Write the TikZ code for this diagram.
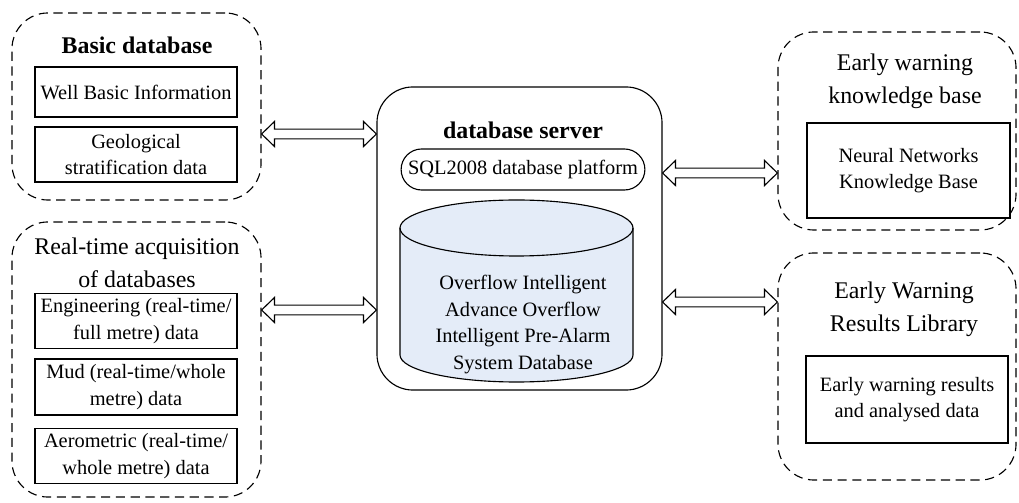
\documentclass[tikz,border=0pt]{standalone}
\usepackage{fontspec}
\setmainfont{Liberation Serif}
\usetikzlibrary{calc,shapes.misc}
\definecolor{cylfill}{RGB}{228,236,248}
% hollow two-headed block arrow between two points on one level
\newcommand\hollowarrow[2]{%
  \draw[line join=miter] let \p1=#1, \p2=#2 in
    (\x1,\y1) -- (\x1+9.2pt,\y1+8.9pt) -- (\x1+9.2pt,\y1+3.5pt)
    -- (\x2-9.2pt,\y2+3.5pt) -- (\x2-9.2pt,\y2+8.9pt) -- (\x2,\y2)
    -- (\x2-9.2pt,\y2-8.9pt) -- (\x2-9.2pt,\y2-3.5pt)
    -- (\x1+9.2pt,\y1-3.5pt) -- (\x1+9.2pt,\y1-8.9pt) -- cycle;}
\begin{document}
\begin{tikzpicture}[x=0.025cm,y=-0.025cm,line width=0.8pt,
  group/.style={draw,dash pattern=on 6.5pt off 4pt,rounded corners=0.9cm},
  item/.style={draw,align=center,minimum width=5.05cm,font=\fontsize{14.5}{19}\selectfont},
  title/.style={align=center,font=\fontsize{17}{23.4}\selectfont}]
\useasboundingbox (0,0) rectangle (1019,503);
% outer frames
\node[group,minimum width=6.225cm,minimum height=4.675cm] (bas) at (136.5,106.5) {};
\node[group,minimum width=6.225cm,minimum height=6.875cm] (rt) at (136.5,359.5) {};
\node[group,minimum width=5.95cm,minimum height=4.95cm] (kb) at (897,131) {};
\node[group,minimum width=5.95cm,minimum height=5.675cm] (res) at (897,366.5) {};
\node[draw,rounded corners=0.9cm,minimum width=7.125cm,minimum height=7.575cm] (srv) at (519.5,238.5) {};
% basic database
\node[title,font=\fontsize{17}{23.4}\selectfont\bfseries] (basT) at (137,45) {Basic database};
\node[item,minimum height=1.25cm] (well) at (136,92) {Well Basic Information};
\node[item,minimum height=1.375cm] (geo) at (136,154.5) {Geological\\stratification data};
% real-time acquisition
\node[title] (rtT) at (137,263) {Real-time acquisition\\of databases};
\node[item,minimum height=1.35cm] (eng) at (136,321) {Engineering (real-time/\\full metre) data};
\node[item,minimum height=1.4cm] (mud) at (136,387) {Mud (real-time/whole\\metre) data};
\node[item,minimum height=1.35cm] (aero) at (136,456) {Aerometric (real-time/\\whole metre) data};
% server
\node[title,font=\fontsize{17}{23.4}\selectfont\bfseries] (srvT) at (523,130) {database server};
\node[draw,rounded rectangle,minimum width=6.05cm,minimum height=1.025cm,
  font=\fontsize{14.5}{19}\selectfont] (sql) at (523,169.5) {SQL2008 database platform};
\filldraw[fill=cylfill] (400,228) -- (400,355) arc[start angle=180,end angle=360,x radius=116.5,y radius=-27]
  -- (633,228) arc[start angle=0,end angle=180,x radius=116.5,y radius=-28] -- cycle;
\draw (400,228) arc[start angle=180,end angle=360,x radius=116.5,y radius=-28];
\node[align=center,font=\fontsize{14.5}{19.1}\selectfont] (cyl) at (523,324.5)
  {Overflow Intelligent\\Advance Overflow\\Intelligent Pre-Alarm\\System Database};
% knowledge base
\node[title] (kbT) at (905,81.5) {Early warning\\knowledge base};
\node[item,minimum width=5.075cm,minimum height=2.375cm] (nn) at (908.5,170.5) {Neural Networks\\Knowledge Base};
% results library
\node[title] (resT) at (904,309) {Early Warning\\Results Library};
\node[item,minimum height=2.175cm] (ewr) at (907,399.5) {Early warning results\\and analysed data};
% arrows
\hollowarrow{(bas.east |- 0,134)}{(srv.west |- 0,134)}
\hollowarrow{(rt.east |- 0,310)}{(srv.west |- 0,310)}
\hollowarrow{(srv.east |- 0,173)}{(kb.west |- 0,173)}
\hollowarrow{(srv.east |- 0,302)}{(res.west |- 0,302)}
\end{tikzpicture}
\end{document}
